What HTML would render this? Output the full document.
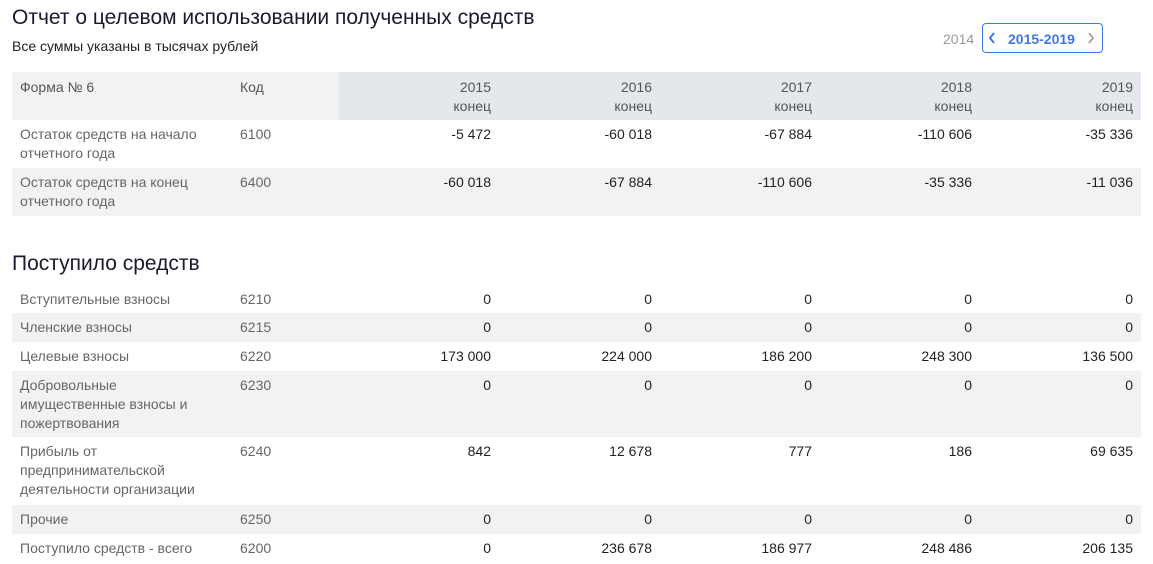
<!DOCTYPE html>
<html><head><meta charset="utf-8"><style>
body{margin:0;background:#fff;font-family:"Liberation Sans","Noto Sans CJK SC",sans-serif;color:#222;}
.abs{position:absolute;}
.t1{position:absolute;left:12px;top:6px;font-size:21px;color:#1a1a2e;z-index:5;}
.sub{position:absolute;left:12px;top:38px;font-size:14px;color:#222;}
.t2{position:absolute;left:12px;top:252px;font-size:21px;color:#1a1a2e;z-index:5;}
table{position:absolute;left:12px;width:1129px;border-collapse:collapse;table-layout:fixed;font-size:14px;}
td{vertical-align:top;padding:5px 8px 4px 8px;line-height:19px;}
td.n{color:#666;}
td.c{color:#666;}
td.v{text-align:right;color:#222;}
tr.g td{background:#f1f2f4;}
tr.h td{background:#f1f2f4;color:#555;padding-top:6px;}
tr.h td.v{background:#e4e7eb;color:#555;}
.yr{position:absolute;left:943px;top:31px;font-size:14px;color:#999;}
.btn{position:absolute;left:982px;top:23px;width:119px;height:28px;border:1px solid #3b78e7;border-radius:4px;color:#3b78e7;font-size:14px;font-weight:bold;}
</style></head><body>
<div class="t1">Отчет о целевом использовании полученных средств</div>
<div class="sub">Все суммы указаны в тысячах рублей</div>
<div class="yr">2014</div>
<div class="btn"><svg class="abs" style="left:5px;top:8px" width="8" height="12"><path d="M6 1 L2 6 L6 11" stroke="#3b78e7" stroke-width="2" fill="none"/></svg><span class="abs" style="left:25px;top:7px;">2015-2019</span><svg class="abs" style="left:104px;top:8px" width="8" height="12"><path d="M2 1 L6 6 L2 11" stroke="#999" stroke-width="1.6" fill="none"/></svg></div>
<table style="top:72px;">
<colgroup><col style="width:220px"><col style="width:107px"><col style="width:160px"><col style="width:161px"><col style="width:160px"><col style="width:160px"><col style="width:161px"></colgroup>
<tr class="h" style="height:47px"><td>Форма № 6</td><td>Код</td><td class="v">2015<br>конец</td><td class="v">2016<br>конец</td><td class="v">2017<br>конец</td><td class="v">2018<br>конец</td><td class="v">2019<br>конец</td></tr>
<tr style="height:48px"><td class="n">Остаток средств на начало отчетного года</td><td class="c">6100</td><td class="v">-5 472</td><td class="v">-60 018</td><td class="v">-67 884</td><td class="v">-110 606</td><td class="v">-35 336</td></tr>
<tr class="g" style="height:48px"><td class="n">Остаток средств на конец отчетного года</td><td class="c">6400</td><td class="v">-60 018</td><td class="v">-67 884</td><td class="v">-110 606</td><td class="v">-35 336</td><td class="v">-11 036</td></tr>
</table>
<div class="t2">Поступило средств</div>
<table style="top:285px;">
<colgroup><col style="width:220px"><col style="width:107px"><col style="width:160px"><col style="width:161px"><col style="width:160px"><col style="width:160px"><col style="width:161px"></colgroup>
<tr style="height:28px"><td class="n">Вступительные взносы</td><td class="c">6210</td><td class="v">0</td><td class="v">0</td><td class="v">0</td><td class="v">0</td><td class="v">0</td></tr>
<tr class="g" style="height:29px"><td class="n">Членские взносы</td><td class="c">6215</td><td class="v">0</td><td class="v">0</td><td class="v">0</td><td class="v">0</td><td class="v">0</td></tr>
<tr style="height:29px"><td class="n">Целевые взносы</td><td class="c">6220</td><td class="v">173 000</td><td class="v">224 000</td><td class="v">186 200</td><td class="v">248 300</td><td class="v">136 500</td></tr>
<tr class="g" style="height:66px"><td class="n">Добровольные имущественные взносы и пожертвования</td><td class="c">6230</td><td class="v">0</td><td class="v">0</td><td class="v">0</td><td class="v">0</td><td class="v">0</td></tr>
<tr style="height:68px"><td class="n">Прибыль от предпринимательской деятельности организации</td><td class="c">6240</td><td class="v">842</td><td class="v">12 678</td><td class="v">777</td><td class="v">186</td><td class="v">69 635</td></tr>
<tr class="g" style="height:29px"><td class="n">Прочие</td><td class="c">6250</td><td class="v">0</td><td class="v">0</td><td class="v">0</td><td class="v">0</td><td class="v">0</td></tr>
<tr style="height:29px"><td class="n">Поступило средств - всего</td><td class="c">6200</td><td class="v">0</td><td class="v">236 678</td><td class="v">186 977</td><td class="v">248 486</td><td class="v">206 135</td></tr>
</table>
</body></html>
